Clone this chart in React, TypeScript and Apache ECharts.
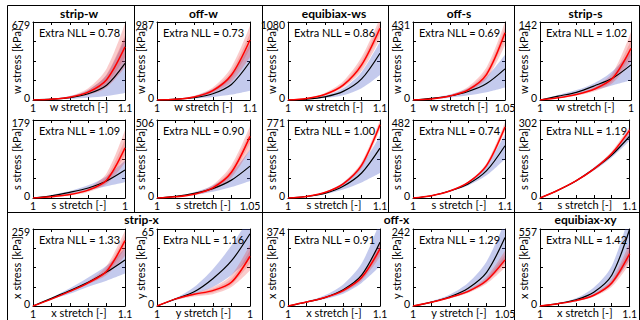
import React, { useEffect, useRef } from "react";
import * as echarts from "echarts";

// Panels, in reading order:
// 0 strip-w (w)   1 off-w (w)   2 equibiax-ws (w)   3 off-s (w)   4 strip-s (w)
// 5 strip-w (s)   6 off-w (s)   7 equibiax-ws (s)   8 off-s (s)   9 strip-s (s)
// 10 strip-x (x)  11 strip-x (y)  12 off-x (x)  13 off-x (y)  14 equibiax-xy (x)

const stretch10 = [1, 1.02, 1.04, 1.06, 1.08, 1.1];
const stretch05 = [1, 1.01, 1.02, 1.03, 1.04, 1.05];
const stretch004 = [1, 1.0008, 1.0016, 1.0024, 1.0032, 1.004];

const panelStretch = [
  stretch10, stretch10, stretch10, stretch05, stretch004,
  stretch004, stretch05, stretch10, stretch10, stretch10,
  stretch10, stretch004, stretch10, stretch05, stretch10,
];

const stressDir = ["w", "w", "w", "w", "w", "s", "s", "s", "s", "s", "x", "y", "x", "y", "x"];

const yMax = [679, 987, 1080, 431, 142, 179, 506, 771, 482, 302, 259, 65, 374, 242, 557];

const extraNLL = [0.78, 0.73, 0.86, 0.69, 1.02, 1.09, 0.9, 1.0, 0.74, 1.19, 1.33, 1.16, 0.91, 1.29, 1.42];

// black curve (model mean)
const blackCurve = [
  [0, 7, 20, 54, 129, 319],
  [0, 10, 30, 79, 197, 484],
  [0, 11, 43, 119, 292, 648],
  [0, 9, 22, 47, 91, 172],
  [0, 7, 14, 26, 40, 64],
  [0, 5, 13, 23, 39, 64],
  [0, 10, 30, 61, 116, 207],
  [0, 15, 46, 116, 247, 493],
  [0, 14, 43, 87, 169, 323],
  [0, 30, 66, 112, 166, 239],
  [0, 26, 52, 80, 114, 155],
  [0, 6, 12, 23, 38, 61],
  [0, 19, 41, 79, 150, 310],
  [0, 12, 29, 56, 106, 215],
  [0, 17, 45, 100, 223, 557],
];

// red curve (data mean)
const redCurve = [
  [0, 7, 24, 68, 177, 462],
  [0, 10, 39, 118, 316, 760],
  [0, 22, 76, 205, 486, 994],
  [0, 6, 22, 56, 142, 371],
  [0, 4, 10, 20, 40, 94],
  [0, 3, 8, 18, 41, 115],
  [0, 8, 25, 66, 167, 400],
  [0, 15, 54, 139, 324, 725],
  [0, 14, 43, 96, 202, 439],
  [0, 30, 66, 112, 172, 263],
  [0, 23, 49, 78, 117, 220],
  [0, 6, 10, 13, 20, 42],
  [0, 19, 41, 75, 138, 277],
  [0, 12, 27, 46, 80, 145],
  [0, 17, 39, 78, 167, 379],
];

const blueLower = [
  [0, 3, 10, 20, 34, 61],
  [0, 6, 20, 39, 69, 118],
  [0, 9, 27, 65, 162, 346],
  [0, 4, 13, 26, 43, 69],
  [0, 5, 11, 18, 27, 36],
  [0, 4, 10, 18, 27, 36],
  [0, 8, 20, 40, 71, 111],
  [0, 12, 39, 85, 154, 247],
  [0, 13, 39, 77, 140, 241],
  [0, 29, 63, 106, 157, 223],
  [0, 22, 41, 65, 85, 109],
  [0, 5, 10, 16, 26, 40],
  [0, 17, 34, 60, 112, 194],
  [0, 11, 24, 44, 77, 140],
  [0, 14, 33, 72, 156, 334],
];

const blueUpper = [
  [0, 10, 34, 88, 217, 543],
  [0, 15, 49, 138, 326, 711],
  [0, 16, 59, 162, 389, 810],
  [0, 11, 30, 65, 129, 250],
  [0, 9, 18, 31, 53, 88],
  [0, 7, 16, 29, 50, 86],
  [0, 13, 38, 81, 162, 314],
  [0, 17, 58, 154, 324, 617],
  [0, 15, 48, 101, 202, 395],
  [0, 32, 69, 118, 175, 254],
  [0, 28, 60, 96, 135, 194],
  [0, 6.5, 16, 31, 51, 75],
  [0, 22, 52, 105, 206, 411],
  [0, 15, 36, 73, 140, 266],
  [0, 22, 56, 134, 290, 668],
];

// red outer band
const redLower = [
  [0, 5, 17, 44, 109, 285],
  [0, 8, 30, 89, 227, 543],
  [0, 16, 59, 173, 400, 842],
  [0, 5, 17, 47, 116, 302],
  [0, 4, 8, 16, 31, 71],
  [0, 2, 6, 14, 32, 81],
  [0, 6, 20, 51, 132, 314],
  [0, 14, 46, 123, 293, 678],
  [0, 13, 41, 89, 188, 410],
  [0, 29, 63, 107, 163, 248],
  [0, 22, 47, 73, 104, 168],
  [0, 5, 8, 10, 16, 30],
  [0, 17, 37, 67, 123, 239],
  [0, 11, 24, 41, 70, 121],
  [0, 14, 33, 67, 139, 306],
];

const redUpper = [
  [0, 10, 34, 102, 272, 665],
  [0, 15, 54, 158, 415, 938],
  [0, 27, 97, 259, 594, 1134],
  [0, 9, 28, 73, 181, 431],
  [0, 5, 12, 24, 50, 124],
  [0, 4, 11, 23, 57, 156],
  [0, 10, 33, 86, 213, 466],
  [0, 17, 62, 154, 355, 771],
  [0, 15, 46, 101, 217, 468],
  [0, 32, 69, 116, 181, 278],
  [0, 25, 52, 83, 135, 254],
  [0, 6.5, 11, 16, 26, 52],
  [0, 21, 45, 82, 153, 314],
  [0, 13, 29, 51, 92, 174],
  [0, 19, 45, 89, 195, 457],
];

// red inner (darker) band
const redInnerLower = [
  [0, 6, 20, 56, 143, 373],
  [0, 9, 34, 103, 271, 651],
  [0, 19, 67, 189, 443, 918],
  [0, 5.5, 19, 51, 129, 336],
  [0, 4, 9, 18, 35, 82],
  [0, 2.5, 7, 16, 36, 98],
  [0, 7, 22, 58, 149, 357],
  [0, 14.5, 50, 131, 308, 701],
  [0, 13.5, 42, 92, 195, 424],
  [0, 29.5, 64.5, 109, 167, 255],
  [0, 22.5, 48, 75, 110, 194],
  [0, 5.5, 9, 11.5, 18, 36],
  [0, 18, 39, 71, 130, 258],
  [0, 11.5, 25.5, 43.5, 75, 133],
  [0, 15.5, 36, 72, 153, 342],
];

const redInnerUpper = [
  [0, 8, 29, 85, 224, 563],
  [0, 12, 46, 138, 365, 849],
  [0, 24, 86, 232, 540, 1064],
  [0, 7.5, 25, 64, 161, 401],
  [0, 4.5, 11, 22, 45, 109],
  [0, 3.5, 9.5, 20, 49, 135],
  [0, 9, 29, 76, 190, 433],
  [0, 16, 58, 146, 339, 748],
  [0, 14.5, 44.5, 98, 209, 453],
  [0, 31, 67.5, 114, 176, 270],
  [0, 24, 50.5, 80, 126, 237],
  [0, 6.2, 10.5, 14.5, 23, 47],
  [0, 20, 43, 78, 145, 295],
  [0, 12.5, 28, 48.5, 86, 160],
  [0, 18, 42, 83, 181, 418],
];

const topTitles = ["strip-w", "off-w", "equibiax-ws", "off-s", "strip-s"];
const bottomTitles = ["strip-x", "off-x", "equibiax-xy"];

// layout
const colLeft = [33, 157, 288, 413, 540];
const colWidth = [92, 93, 92, 92, 91];
const rowTop = [22, 120, 229];
const rowHeight = [78, 78, 77];

const FONT = 'Lato, "Liberation Sans", sans-serif';

function fmtStretch(v: string) {
  return String(Number(parseFloat(v).toFixed(2)));
}

export default function App() {
  const ref = useRef<HTMLDivElement>(null);
  useEffect(() => {
    document.body.style.margin = "0";
    if (!ref.current) return;
    const chart = echarts.init(ref.current, undefined, { renderer: "svg" });

    const grid: any[] = [];
    const xAxis: any[] = [];
    const yAxis: any[] = [];
    const series: any[] = [];
    const graphic: any[] = [];

    const axisLine = { show: true, onZero: false, lineStyle: { color: "#000", width: 1 } };
    const axisTick = { show: true, inside: true, length: 3, lineStyle: { color: "#000", width: 1 } };

    for (let i = 0; i < 15; i++) {
      const row = Math.floor(i / 5);
      const col = i % 5;
      const left = colLeft[col];
      const top = rowTop[row];
      const width = colWidth[col];
      const height = rowHeight[row];
      grid.push({ left, top, width, height, containLabel: false });
      const cats = panelStretch[i].map(String);
      const last = cats.length - 1;
      const max = yMax[i];
      const dir = stressDir[i];
      const xi = xAxis.length;
      const yi = yAxis.length;
      xAxis.push({
        type: "category",
        gridIndex: i,
        data: cats,
        boundaryGap: false,
        position: "bottom",
        axisLine,
        axisTick: { ...axisTick, interval: 0 },
        splitLine: { show: false },
        axisLabel: {
          interval: 0,
          margin: 2,
          fontSize: 10.5,
          color: "#000",
          fontFamily: FONT,
          formatter: (v: string, idx: number) => (idx === 0 || idx === last ? fmtStretch(v) : ""),
        },
        name: `${dir} stretch [-]`,
        nameLocation: "middle",
        nameGap: 1,
        nameMoveOverlap: false,
        nameTextStyle: { fontSize: 11, color: "#000", fontFamily: FONT, verticalAlign: "top" },
      });
      xAxis.push({
        type: "category",
        gridIndex: i,
        data: cats,
        boundaryGap: false,
        position: "top",
        axisLine,
        axisTick: { ...axisTick, interval: 0 },
        axisLabel: { show: false },
        splitLine: { show: false },
      });
      yAxis.push({
        type: "value",
        gridIndex: i,
        min: 0,
        max,
        interval: max / 4,
        position: "left",
        axisLine,
        axisTick,
        splitLine: { show: false },
        axisLabel: {
          margin: 3,
          fontSize: 10.5,
          color: "#000",
          fontFamily: FONT,
          formatter: (v: number) =>
            v === 0 ? "{b|0}" : Math.abs(v - max) < max * 1e-6 ? `{t|${max}}` : "",
          rich: {
            t: { fontSize: 10.5, fontFamily: FONT, color: "#000", padding: [5, 0, 0, 0] },
            b: { fontSize: 10.5, fontFamily: FONT, color: "#000", padding: [0, 0, 5, 0] },
          },
        },
        name: `${dir} stress [kPa]`,
        nameLocation: "middle",
        nameGap: 11,
        nameMoveOverlap: false,
        nameTextStyle: { fontSize: 11, color: "#000", fontFamily: FONT },
      });
      yAxis.push({
        type: "value",
        gridIndex: i,
        min: 0,
        max,
        interval: max / 4,
        position: "right",
        axisLine,
        axisTick,
        axisLabel: { show: false },
        splitLine: { show: false },
      });

      const common = {
        type: "line",
        xAxisIndex: xi,
        yAxisIndex: yi,
        symbol: "none",
        smooth: 0.3,
        silent: true,
        clip: true,
      };
      const band = (key: string, lo: number[], hi: number[], color: string) => {
        series.push({ ...common, stack: key + i, data: lo, lineStyle: { width: 0, opacity: 0 } });
        series.push({
          ...common,
          stack: key + i,
          data: hi.map((v, k) => v - lo[k]),
          lineStyle: { width: 0, opacity: 0 },
          areaStyle: { color, opacity: 1 },
        });
      };
      band("b", blueLower[i], blueUpper[i], "rgba(70,90,200,0.32)");
      band("r", redLower[i], redUpper[i], "rgba(235,40,40,0.24)");
      band("ri", redInnerLower[i], redInnerUpper[i], "rgba(235,40,40,0.22)");
      series.push({ ...common, data: blackCurve[i], lineStyle: { color: "#000", width: 1.2 }, z: 5 });
      series.push({ ...common, data: redCurve[i], lineStyle: { color: "#ff0000", width: 1.5 }, z: 6 });

      graphic.push({
        type: "text",
        x: left + 6,
        y: top + 5,
        z: 100,
        style: {
          text: `Extra NLL = ${extraNLL[i].toFixed(2)}`,
          fontSize: 11,
          fontFamily: FONT,
          fill: "#000",
        },
      });
    }

    const titleStyle = {
      fontSize: 12,
      fontWeight: "bold",
      fontFamily: FONT,
      fill: "#000",
      align: "center",
      verticalAlign: "middle",
      textAlign: "center",
      textVerticalAlign: "middle",
    };
    topTitles.forEach((t, c) => {
      graphic.push({
        type: "text",
        x: colLeft[c] + colWidth[c] / 2,
        y: 13,
        z: 100,
        style: { ...titleStyle, text: t },
      });
    });
    const bottomCenters = [
      (colLeft[0] + colLeft[1] + colWidth[1]) / 2,
      (colLeft[2] + colLeft[3] + colWidth[3]) / 2,
      colLeft[4] + colWidth[4] / 2,
    ];
    bottomTitles.forEach((t, k) => {
      graphic.push({
        type: "text",
        x: bottomCenters[k],
        y: 219,
        z: 100,
        style: { ...titleStyle, text: t },
      });
    });

    const lineStyle = { stroke: "#000", lineWidth: 1 };
    const frame: number[][] = [
      [7.5, 5.5, 639.5, 5.5],
      [7.5, 5.5, 7.5, 320],
      [639.5, 5.5, 639.5, 320],
      [7.5, 212.5, 639.5, 212.5],
      [134.5, 5.5, 134.5, 212.5],
      [262.5, 5.5, 262.5, 320],
      [388.5, 5.5, 388.5, 212.5],
      [514.5, 5.5, 514.5, 320],
    ];
    frame.forEach(([x1, y1, x2, y2]) => {
      graphic.push({ type: "line", z: 100, shape: { x1, y1, x2, y2 }, style: lineStyle });
    });

    chart.setOption({
      animation: false,
      backgroundColor: "#fff",
      grid,
      xAxis,
      yAxis,
      series,
      graphic,
    });
    return () => chart.dispose();
  }, []);
  return <div ref={ref} style={{ width: 640, height: 320 }} />;
}
